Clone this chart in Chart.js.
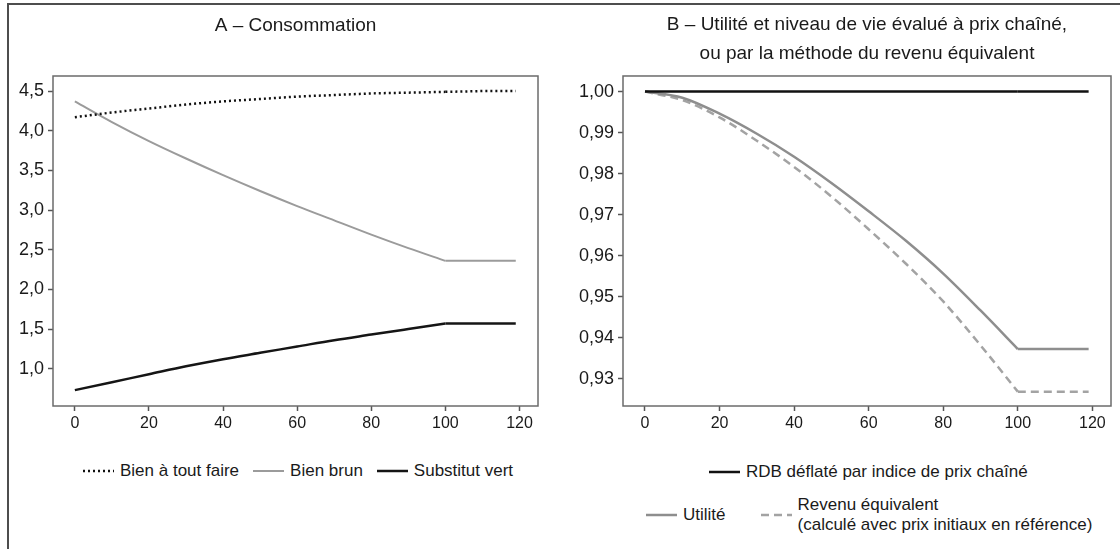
<!DOCTYPE html>
<html lang="fr">
<head>
<meta charset="utf-8">
<title>Consommation et niveau de vie</title>
<script src="https://cdn.jsdelivr.net/npm/chart.js@4.4.1/dist/chart.umd.min.js"></script>
<style>
  html, body { margin: 0; padding: 0; background: #fff; }
  body { width: 1120px; height: 549px; position: relative; overflow: hidden;
         font-family: "Liberation Sans", Arial, sans-serif; color: #1a1a1a; }
  #frame { position: absolute; left: 7px; top: 3px; right: -4px; bottom: -4px;
           border-left: 2px solid #4d4d4d; border-top: 2px solid #4d4d4d; }
  canvas { position: absolute; top: 0; }
  #chartA { left: 0; }
  #chartB { left: 560px; }
  .legend { position: absolute; display: flex; align-items: center;
            font-size: 17px; line-height: 20px; white-space: nowrap; }
  .item { display: flex; align-items: center; }
  .item svg { margin-right: 6px; flex: none; }
</style>
</head>
<body>
<div id="frame"></div>
<canvas id="chartA" width="560" height="445"></canvas>
<canvas id="chartB" width="560" height="445"></canvas>

<div class="legend" id="legA" style="left:83px; top:461px;"></div>
<div class="legend" id="legB1" style="left:709px; top:462px;"></div>
<div class="legend" id="legB2" style="left:646px; top:495px;"></div>

<script>
// --- Données ---
const xs        = [0, 10, 20, 30, 40, 50, 60, 70, 80, 90, 100, 110, 119];
const toutFaire = [4.17, 4.23, 4.28, 4.33, 4.37, 4.40, 4.43, 4.45, 4.47, 4.48, 4.49, 4.50, 4.50];
const brun      = [4.37, 4.11, 3.87, 3.65, 3.44, 3.24, 3.05, 2.87, 2.69, 2.52, 2.36, 2.36, 2.36];
const vert      = [0.73, 0.83, 0.93, 1.03, 1.12, 1.20, 1.28, 1.36, 1.43, 1.50, 1.57, 1.57, 1.57];

const rdb       = [1, 1, 1, 1, 1, 1, 1, 1, 1, 1, 1, 1, 1];
const utilite   = [1.000, 0.9985, 0.9946, 0.9897, 0.9841, 0.9777, 0.9708, 0.9636, 0.9556, 0.9466, 0.9372, 0.9372, 0.9372];
const revenu    = [1.000, 0.9979, 0.9937, 0.9880, 0.9816, 0.9744, 0.9664, 0.9580, 0.9488, 0.9381, 0.9268, 0.9268, 0.9268];

const ticksX = [0, 20, 40, 60, 80, 100, 120];
const ticksA = [1.0, 1.5, 2.0, 2.5, 3.0, 3.5, 4.0, 4.5];
const ticksB = [0.93, 0.94, 0.95, 0.96, 0.97, 0.98, 0.99, 1.00];
const rupture = 100; // fin de la transition : les courbes deviennent plates

Chart.defaults.font.family = '"Liberation Sans", Arial, sans-serif';
Chart.defaults.color = '#1a1a1a';

// --- Styles des séries ---
const styles = {
  toutFaire: { color: '#111111', width: 2.5, dash: [2, 3] },
  brun:      { color: '#9b9b9b', width: 2,   dash: [] },
  vert:      { color: '#151515', width: 2.5, dash: [] },
  rdb:       { color: '#111111', width: 2.5, dash: [] },
  utilite:   { color: '#8e8e8e', width: 2.5, dash: [] },
  revenu:    { color: '#a3a3a3', width: 2.5, dash: [8, 5] }
};

// la partie courbe est lissée, la partie plate reste droite (coude net à 100)
function serie(ys, st) {
  const pts = xs.map((x, i) => ({ x: x, y: ys[i] }));
  const k = xs.indexOf(rupture);
  const base = { borderColor: st.color, borderWidth: st.width, borderDash: st.dash,
                 borderCapStyle: 'butt', pointRadius: 0, fill: false };
  return [
    Object.assign({ data: pts.slice(0, k + 1), cubicInterpolationMode: 'monotone' }, base),
    Object.assign({ data: pts.slice(k), tension: 0 }, base)
  ];
}

// cadre autour de la zone de tracé
const cadre = {
  id: 'cadre',
  afterDatasetsDraw(chart) {
    const { ctx, chartArea: a } = chart;
    ctx.save();
    ctx.strokeStyle = '#6b6b6b';
    ctx.lineWidth = 1.5;
    ctx.strokeRect(a.left, a.top, a.right - a.left, a.bottom - a.top);
    ctx.restore();
  }
};

function echelles(yMin, yMax, yTicks, yWidth, dec) {
  const grille = { drawOnChartArea: false, tickLength: 5, tickColor: '#555', tickWidth: 1.5 };
  return {
    x: {
      type: 'linear', min: -5.9, max: 125,
      afterBuildTicks: s => { s.ticks = ticksX.map(v => ({ value: v })); },
      afterFit: s => { s.height = 39; },
      border: { display: false },
      grid: grille,
      ticks: { padding: 3, font: { size: 16 }, maxRotation: 0, autoSkip: false }
    },
    y: {
      min: yMin, max: yMax,
      afterBuildTicks: s => { s.ticks = yTicks.map(v => ({ value: v })); },
      afterFit: s => { s.width = yWidth; },
      border: { display: false },
      grid: grille,
      ticks: { padding: 4, font: { size: 18 }, autoSkip: false,
               callback: v => v.toFixed(dec).replace('.', ',') }
    }
  };
}

function titre(text, top, bottom, lh) {
  return { display: true, text: text, fullSize: false, color: '#1a1a1a',
           font: { size: 19, weight: 'normal', lineHeight: lh },
           padding: { top: top, bottom: bottom } };
}

new Chart(document.getElementById('chartA'), {
  type: 'line',
  data: { datasets: [].concat(serie(toutFaire, styles.toutFaire), serie(brun, styles.brun), serie(vert, styles.vert)) },
  options: {
    responsive: false, animation: false, events: [],
    layout: { padding: { left: 0, right: 22, top: 0, bottom: 0 } },
    scales: echelles(0.53, 4.69, ticksA, 53, 1),
    plugins: { legend: { display: false }, tooltip: { enabled: false },
               title: titre('A – Consommation', 14.6, 38.6, 1.2) }
  },
  plugins: [cadre]
});

new Chart(document.getElementById('chartB'), {
  type: 'line',
  data: { datasets: [].concat(serie(rdb, styles.rdb), serie(utilite, styles.utilite), serie(revenu, styles.revenu)) },
  options: {
    responsive: false, animation: false, events: [],
    layout: { padding: { left: 0, right: 9, top: 0, bottom: 0 } },
    scales: echelles(0.9233, 1.0038, ticksB, 63, 2),
    plugins: { legend: { display: false }, tooltip: { enabled: false },
               title: titre(['B – Utilité et niveau de vie évalué à prix chaîné,',
                             'ou par la méthode du revenu équivalent'], 10.5, 7.5, 1.526) }
  },
  plugins: [cadre]
});

// --- Légendes HTML ---
function echantillon(st) {
  return '<svg width="31" height="8"><line x1="0" y1="4" x2="31" y2="4" stroke="' + st.color +
         '" stroke-width="' + st.width + '" stroke-dasharray="' + (st.dash.join(' ') || 'none') + '"/></svg>';
}
function legende(id, items, gap) {
  const el = document.getElementById(id);
  el.style.gap = gap + 'px';
  el.innerHTML = items.map(it =>
    '<div class="item">' + echantillon(it.st) + '<div>' + it.label.join('<br>') + '</div></div>').join('');
}
legende('legA', [
  { st: styles.toutFaire, label: ['Bien à tout faire'] },
  { st: styles.brun, label: ['Bien brun'] },
  { st: styles.vert, label: ['Substitut vert'] }
], 14);
legende('legB1', [{ st: styles.rdb, label: ['RDB déflaté par indice de prix chaîné'] }], 0);
legende('legB2', [
  { st: styles.utilite, label: ['Utilité'] },
  { st: styles.revenu, label: ['Revenu équivalent', '(calculé avec prix initiaux en référence)'] }
], 35);
</script>
</body>
</html>
